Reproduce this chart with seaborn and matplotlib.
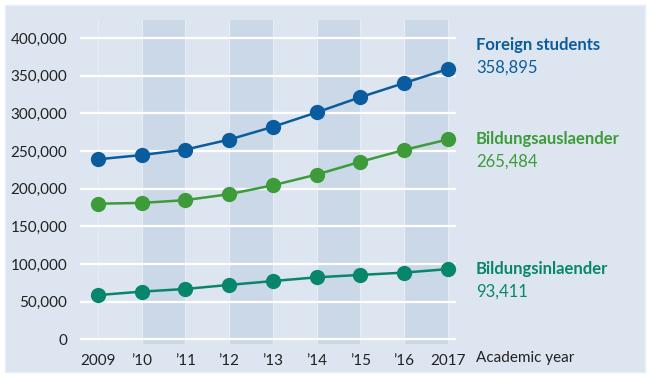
import pandas as pd
import matplotlib.pyplot as plt
from matplotlib.patches import Rectangle
import seaborn as sns

years = [2009, 2010, 2011, 2012, 2013, 2014, 2015, 2016, 2017]
year_labels = ['2009', '\u201910', '\u201911', '\u201912', '\u201913', '\u201914', '\u201915', '\u201916', '2017']
foreign = [239143, 244776, 252032, 265292, 282201, 301350, 321569, 340305, 358895]
ausl = [180222, 181249, 184960, 192853, 204644, 218848, 235858, 251542, 265484]
inl = [58921, 63527, 67072, 72439, 77557, 82502, 85711, 88763, 93411]
series_names = ['Foreign students', 'Bildungsauslaender', 'Bildungsinlaender']
colors = ['#0b5c9e', '#3d9b3a', '#08866c']

df = pd.DataFrame({
    'year': years * 3,
    'value': foreign + ausl + inl,
    'series': [n for n in series_names for _ in years],
})

sns.set_style('white')
plt.rcParams['font.family'] = ['Lato', 'DejaVu Sans']

bg = '#dde6f0'
band = '#cbd8e7'

fig = plt.figure(figsize=(6.5, 3.77), dpi=100, facecolor='white')
# light card behind the chart
fig.patches.append(Rectangle((5 / 650, 5 / 377), 640 / 650, 367 / 377,
                             transform=fig.transFigure, facecolor=bg,
                             edgecolor='#e8eef5', lw=1, zorder=-5))

ax = fig.add_axes([0.123, 0.0875, 0.578, 0.8594])
ax.set_zorder(1)
ax.patch.set_alpha(0)

# alternating darker columns
for i in range(1, len(years) - 1, 2):
    ax.axvspan(years[i], years[i + 1], color=band, zorder=0, lw=0)
for y in years:
    ax.axvline(y, color='#e6edf5', lw=0.8, zorder=0.5)

ax.set_ylim(-6000, 424000)
ax.set_xlim(2008.59, 2017.18)
ax.set_yticks(range(0, 400001, 50000))
ax.yaxis.grid(True, color='white', lw=1.6, zorder=1)
ax.set_axisbelow(True)

sns.lineplot(data=df, x='year', y='value', hue='series', palette=colors,
             marker='o', markersize=11, markeredgewidth=0, linewidth=1.8,
             legend=False, ax=ax, zorder=3)

ax.set_xticks(years)
ax.set_xticklabels(year_labels)
ax.set_yticklabels([f'{v:,}' for v in range(0, 400001, 50000)])
ax.tick_params(axis='both', length=0, labelsize=11, colors='#222222')
ax.tick_params(axis='y', pad=9)
ax.tick_params(axis='x', pad=7)
ax.set_xlabel('')
ax.set_ylabel('')
for s in ax.spines.values():
    s.set_visible(False)

fig.text(476 / 650, 1 - 358 / 377, 'Academic year', fontsize=11, color='#222222',
         va='center', ha='left')

label_y = [(45, 68), (139, 162), (269, 292)]
finals = [foreign[-1], ausl[-1], inl[-1]]
for name, val, col, (y1, y2) in zip(series_names, finals, colors, label_y):
    fig.text(476 / 650, 1 - y1 / 377, name, fontsize=12, fontweight='bold',
             color=col, va='center', ha='left')
    fig.text(476 / 650, 1 - y2 / 377, f'{val:,}', fontsize=12,
             color=col, va='center', ha='left')

plt.savefig('out.png', dpi=100, facecolor='white')
